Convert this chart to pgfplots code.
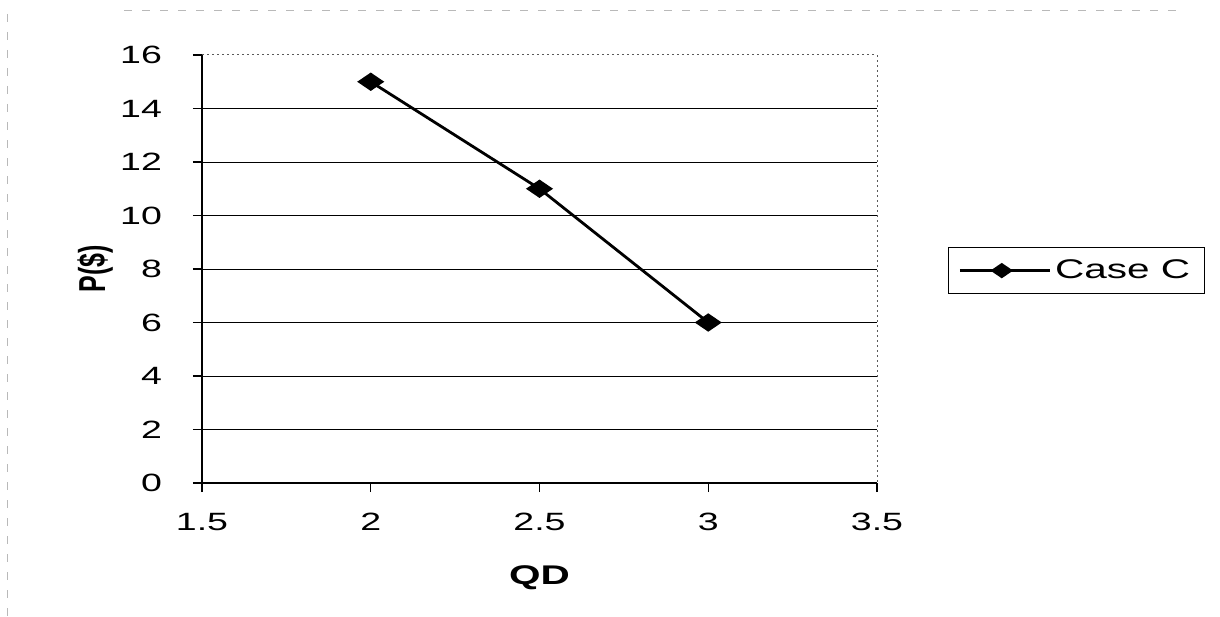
\documentclass[border=0pt]{standalone}
\usepackage{graphicx}
\usepackage{fontspec}
\setmainfont{Liberation Sans}[FakeStretch=1.5]
\newfontfamily\plainfont{Liberation Sans}
\usepackage{pgfplots}
\pgfplotsset{compat=1.18}
\begin{document}
\begin{tikzpicture}[x=1pt,y=1pt]
\begin{axis}[
  name=ax,
  scale only axis, width=337.5pt, height=214pt,
  xmin=1.5, xmax=3.5, ymin=0, ymax=16,
  xtick={1.5,2,2.5,3,3.5}, ytick={0,2,4,6,8,10,12,14,16},
  axis x line*=bottom, axis y line*=left,
  axis line style={black, line width=0.8pt},
  tick align=outside, major tick length=4.5pt,
  tick style={black, line width=0.6pt},
  xtick pos=bottom, ytick pos=left,
  ymajorgrids, grid style={black, line width=0.5pt},
  /pgf/number format/assume math mode=true,
  tick label style={font=\fontsize{12.5}{15}\selectfont},
  xticklabel style={yshift=-7pt},
  yticklabel style={xshift=-12pt},
  every axis y label/.style={at={(rel axis cs:0,0.5)}, xshift=-53.5pt, anchor=center},
  every axis x label/.style={at={(rel axis cs:0.5,0)}, yshift=-47.5pt, anchor=center},
  xlabel={\fontsize{13.5}{15}\selectfont\bfseries QD},
  ylabel={\rotatebox{90}{\scalebox{1}[1.5]{\plainfont\fontsize{12.5}{15}\selectfont\bfseries P(\$)}}},
  legend style={at={(rel axis cs:1.105,0.551)}, anchor=north west,
    draw=black, line width=0.5pt, font=\fontsize{13.5}{16}\selectfont,
    inner xsep=5pt, inner ysep=4pt},
  legend image code/.code={%
    \draw[mark repeat=2, mark phase=2, #1, mark size=3pt] plot coordinates {(0pt,0pt) (21pt,0pt) (45pt,0pt)};},
]
\coordinate (O) at (rel axis cs:0,0);
\addplot[black, line width=1.4pt, mark=diamond*, mark size=3.75pt,
  mark options={xscale=1.96, solid, fill=black}]
  coordinates {(2,15) (2.5,11) (3,6)};
\addlegendentry{Case C}
\end{axis}
\draw[white, line width=1pt] ([shift={(0.5,214)}]O) -- ([shift={(337.5,214)}]O);
\draw[gray!70!black, line width=0.5pt, dash pattern=on 1pt off 1.5pt] ([shift={(0,214)}]O) -- ([shift={(337.5,214)}]O) -- ([shift={(337.5,0)}]O);
\draw[gray!55, line width=0.5pt, dash pattern=on 4pt off 5pt] ([shift={(-39,236)}]O) -- ([shift={(489,236)}]O);
\draw[gray!55, line width=0.5pt, dash pattern=on 4pt off 5pt] ([shift={(-97,234.5)}]O) -- ([shift={(-97,-66.5)}]O);
\useasboundingbox ([shift={(-101,-66.5)}]O) rectangle ([shift={(509,241.5)}]O);
\end{tikzpicture}
\end{document}
